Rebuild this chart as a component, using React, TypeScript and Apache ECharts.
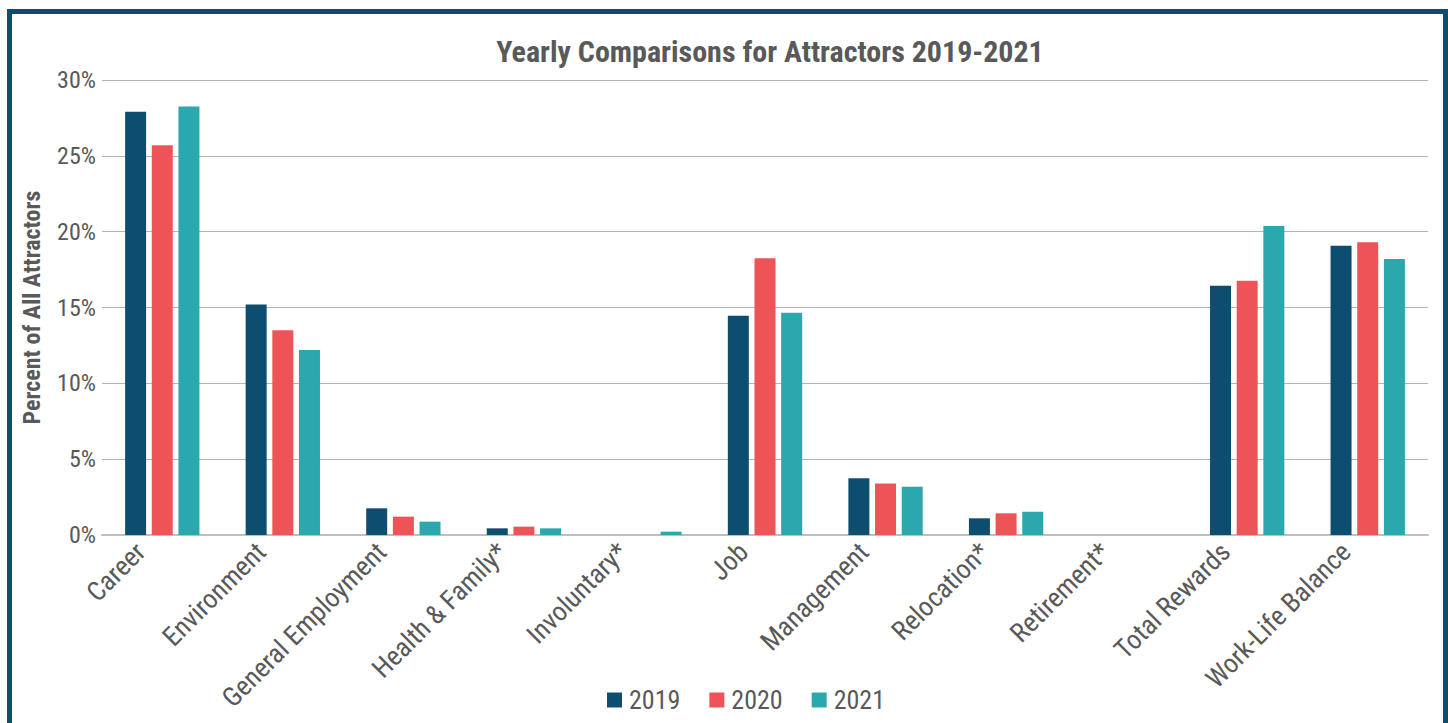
import React, { useEffect, useRef } from "react";
import * as echarts from "echarts";

const categories = [
  "Career",
  "Environment",
  "General Employment",
  "Health & Family*",
  "Involuntary*",
  "Job",
  "Management",
  "Relocation*",
  "Retirement*",
  "Total Rewards",
  "Work-Life Balance",
];
const values2019 = [27.9, 15.2, 1.76, 0.44, 0, 14.45, 3.74, 1.1, 0, 16.43, 19.07];
const values2020 = [25.7, 13.5, 1.21, 0.55, 0, 18.25, 3.4, 1.43, 0, 16.76, 19.3];
const values2021 = [28.25, 12.2, 0.88, 0.44, 0.22, 14.65, 3.18, 1.54, 0, 20.37, 18.19];
const yTicks = [0, 5, 10, 15, 20, 25, 30];

const FONT = "'Roboto Condensed', 'Liberation Sans Narrow', Roboto, sans-serif";
const GRAY = "#595959";

export default function App() {
  const ref = useRef<HTMLDivElement>(null);
  useEffect(() => {
    if (!ref.current) return;
    const chart = echarts.init(ref.current, undefined, { renderer: "svg" });
    const mk = (name: string, data: number[], color: string) => ({
      name,
      type: "bar",
      data,
      barWidth: 21,
      barGap: "27%",
      itemStyle: { color },
    });
    chart.setOption({
      animation: false,
      textStyle: { fontFamily: FONT },
      title: {
        text: "Yearly Comparisons for Attractors 2019-2021",
        left: 765,
        textAlign: "center",
        top: 31,
        textStyle: { fontFamily: FONT, fontWeight: "bold", fontSize: 30, color: GRAY },
      },
      legend: {
        bottom: 5,
        left: 602,
        itemWidth: 15,
        itemHeight: 15,
        itemGap: 29,
        icon: "rect",
        textStyle: { fontFamily: FONT, fontSize: 26, color: GRAY, padding: [0, 0, 0, 2] },
        data: ["2019", "2020", "2021"],
      },
      grid: {
        left: 102,
        right: 20,
        top: 80,
        bottom: 188,
        containLabel: false,
        outerBoundsMode: "none",
      },
      xAxis: {
        type: "category",
        data: categories,
        axisTick: { show: false },
        axisLine: { lineStyle: { color: "#bfbfbf", width: 2 } },
        axisLabel: {
          rotate: 45,
          interval: 0,
          fontFamily: FONT,
          fontSize: 27,
          color: GRAY,
          margin: 10,
          verticalAlign: "bottom",
          padding: [0, 17, 0, 0],
        },
      },
      yAxis: {
        type: "value",
        min: yTicks[0],
        max: yTicks[yTicks.length - 1],
        interval: 5,
        name: "Percent of All Attractors",
        nameLocation: "middle",
        nameGap: 58,
        nameTextStyle: { fontFamily: FONT, fontWeight: "bold", fontSize: 24, color: GRAY },
        axisLabel: {
          formatter: "{value}%",
          fontFamily: FONT,
          fontSize: 24,
          color: GRAY,
          margin: 6,
        },
        splitLine: { lineStyle: { color: "#b3b3b3", width: 1 } },
      },
      series: [
        mk("2019", values2019, "#0d4d70"),
        mk("2020", values2020, "#ee5457"),
        mk("2021", values2021, "#2aa8ae"),
      ],
    });
    return () => chart.dispose();
  }, []);
  return (
    <div style={{ position: "fixed", left: 0, top: 0, width: 1448, height: 723, background: "#fff", overflow: "hidden" }}>
      <div ref={ref} style={{ position: "absolute", left: 0, top: 0, width: 1448, height: 723 }} />
      <div
        style={{
          position: "absolute",
          left: 7,
          top: 9,
          width: 1441,
          height: 740,
          boxSizing: "border-box",
          border: "5px solid #0e4d70",
          pointerEvents: "none",
        }}
      />
    </div>
  );
}
